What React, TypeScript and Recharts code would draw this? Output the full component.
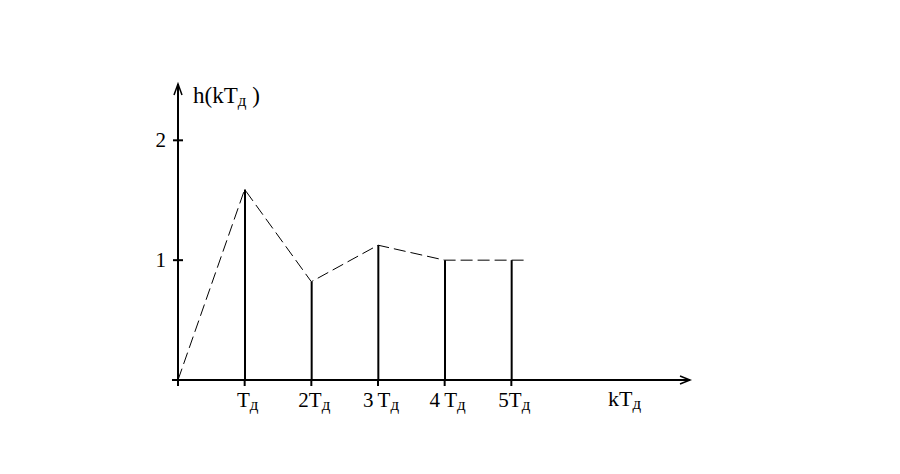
import { ComposedChart, Line, Bar, XAxis, YAxis } from "recharts";

// samples k = 1..5
const kValues = [1, 2, 3, 4, 5];
const hValues = [1.59, 0.82, 1.125, 1.0, 1.0];
const xTickLabels = ["Tд", "2Tд", "3\u2009Tд", "4\u2009Tд", "5Tд"];

// dashed envelope, starts at the origin and runs a little past k = 5
const envK = [0, 1, 2, 3, 4, 5, 5.2];
const envH = [0, 1.59, 0.82, 1.125, 1.0, 1.0, 1.0];

const yTicks = [0, 1, 2];

const stems = kValues.map((k, i) => ({ k, h: hValues[i] }));
const envelope = envK.map((k, i) => ({ k, e: envH[i] }));

const font = "'Liberation Serif', 'DejaVu Serif', serif";

function XTick(props: any) {
  const { x, y, payload } = props;
  const v = payload.value as number;
  const idx = kValues.indexOf(v);
  const label = idx >= 0 ? xTickLabels[idx] : "";
  const main = label.slice(0, -1);
  const sub = label.slice(-1);
  return (
    <g>
      <line x1={x} y1={y} x2={x} y2={y + 6} stroke="#000" strokeWidth={2} />
      {label && (
        <text x={x + 3} y={y + 27} textAnchor="middle" fontFamily={font} fontSize={21} fill="#000">
          {main}
          <tspan fontSize={17} dy={3}>{sub}</tspan>
        </text>
      )}
    </g>
  );
}

function YTick(props: any) {
  const { x, y, payload } = props;
  const v = payload.value as number;
  if (v === 0) {
    return <line x1={x - 6} y1={y} x2={x} y2={y} stroke="#000" strokeWidth={2} />;
  }
  return (
    <g>
      <line x1={x - 5} y1={y} x2={x + 5} y2={y} stroke="#000" strokeWidth={2} />
      <text x={x - 12} y={y + 7} textAnchor="end" fontFamily={font} fontSize={21} fill="#000">
        {v}
      </text>
    </g>
  );
}

function XArrow(props: any) {
  const { x, y, width } = props.viewBox;
  const ex = x + width;
  return (
    <g>
      <path d={`M${ex - 10},${y - 4} L${ex},${y} L${ex - 10},${y + 4}`} fill="none" stroke="#000" strokeWidth={1.5} />
      <text x={ex - 82} y={y + 26} fontFamily={font} fontSize={22} fill="#000">
        kT<tspan fontSize={17} dy={3}>д</tspan>
      </text>
    </g>
  );
}

function YArrow(props: any) {
  const { x, y, width } = props.viewBox;
  const ax = x + width;
  return (
    <g>
      <path d={`M${ax - 4},${y + 11} L${ax},${y} L${ax + 4},${y + 11}`} fill="none" stroke="#000" strokeWidth={1.5} />
      <text x={ax + 15} y={y + 19} fontFamily={font} fontSize={23} fill="#000">
        h(kT<tspan fontSize={17} dy={3}>д</tspan>
        <tspan dy={-3}>{"\u00a0)"}</tspan>
      </text>
    </g>
  );
}

export default function App() {
  return (
    <div style={{ position: "absolute", left: 0, top: 0, width: 900, height: 474, background: "#fff" }}>
      <ComposedChart
        width={900}
        height={474}
        data={stems}
        margin={{ top: 84, right: 210, bottom: 34, left: 148 }}
      >
        <XAxis
          dataKey="k"
          type="number"
          domain={[0, 7.68]}
          ticks={[0, 1, 2, 3, 4, 5]}
          axisLine={{ stroke: "#000", strokeWidth: 2 }}
          tickLine={false}
          tickSize={0}
          tickMargin={0}
          tick={<XTick />}
          height={60}
          interval={0}
          label={<XArrow />}
        />
        <YAxis
          type="number"
          domain={[0, 2.47]}
          ticks={yTicks}
          axisLine={{ stroke: "#000", strokeWidth: 2 }}
          tickLine={false}
          tickSize={0}
          tickMargin={0}
          tick={<YTick />}
          width={30}
          interval={0}
          label={<YArrow />}
        />
        <Bar dataKey="h" barSize={2} fill="#000" isAnimationActive={false} />
        <Line
          data={envelope}
          dataKey="e"
          type="linear"
          stroke="#000"
          strokeWidth={1}
          strokeDasharray="12 5"
          dot={false}
          activeDot={false}
          isAnimationActive={false}
        />
      </ComposedChart>
    </div>
  );
}
